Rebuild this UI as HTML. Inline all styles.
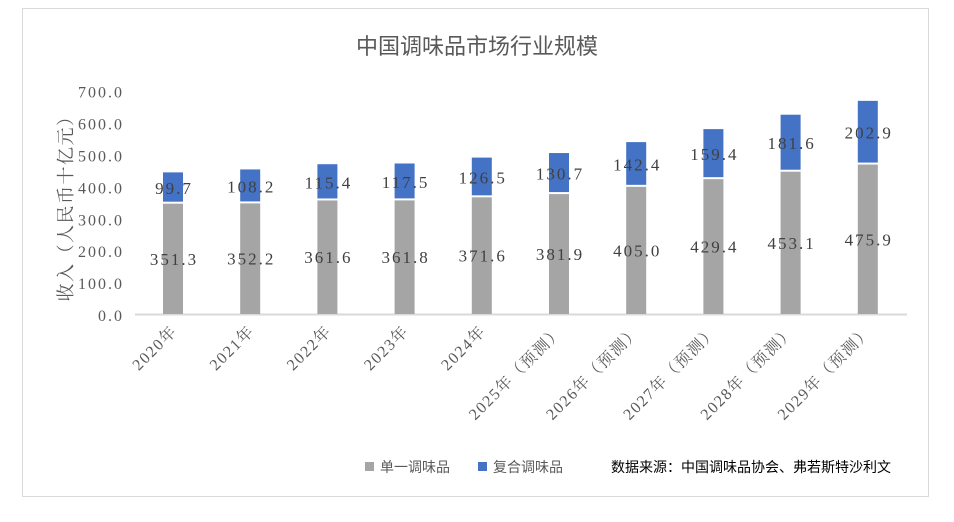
<!DOCTYPE html>
<html><head><meta charset="utf-8"><style>
body{margin:0;background:#fff;}
text{font-family:"Liberation Serif","Noto Serif CJK SC",serif;}
</style></head><body>
<svg width="954" height="517" xmlns="http://www.w3.org/2000/svg">
<rect x="0" y="0" width="954" height="517" fill="#fff"/>
<rect x="22.5" y="8.5" width="906" height="488" fill="none" stroke="#d9d9d9"/>
<text x="477" y="54" text-anchor="middle" font-size="22" fill="#595959" style="font-family:'Noto Sans CJK SC',sans-serif">中国调味品市场行业规模</text>
<g font-size="16" fill="#595959" text-anchor="end" letter-spacing="2">
<text x="124" y="321">0.0</text>
<text x="124" y="289.1">100.0</text>
<text x="124" y="257.2">200.0</text>
<text x="124" y="225.3">300.0</text>
<text x="124" y="193.4">400.0</text>
<text x="124" y="161.5">500.0</text>
<text x="124" y="129.6">600.0</text>
<text x="124" y="97.7">700.0</text>
</g>
<text transform="translate(72,204) rotate(-90)" text-anchor="middle" font-size="18" letter-spacing="1.5" fill="#595959" style="font-family:'Noto Serif CJK SC',serif">收入（人民币十亿元）</text>
<line x1="135" y1="314.5" x2="907" y2="314.5" stroke="#d9d9d9" stroke-width="2"/>
<g id="bars"></g>
<g font-size="16" fill="#595959" letter-spacing="1.5" id="xl"></g>
<g font-size="17" fill="#404040" text-anchor="middle" letter-spacing="2" id="vl"></g>
<rect x="365" y="462" width="9" height="9" fill="#a5a5a5"/>
<text x="380" y="472" font-size="14" fill="#595959" style="font-family:'Noto Sans CJK SC',sans-serif">单一调味品</text>
<rect x="478" y="462" width="9" height="9" fill="#4472c4"/>
<text x="493" y="472" font-size="14" fill="#595959" style="font-family:'Noto Sans CJK SC',sans-serif">复合调味品</text>
<text x="611" y="472" font-size="14" fill="#000" style="font-family:'Noto Sans CJK SC',sans-serif">数据来源：中国调味品协会、弗若斯特沙利文</text>
</svg>
<script>
var a=[351.3,352.2,361.6,361.8,371.6,381.9,405.0,429.4,453.1,475.9];
var b=[99.7,108.2,115.4,117.5,126.5,130.7,142.4,159.4,181.6,202.9];
var lab=["2020年","2021年","2022年","2023年","2024年","2025年（预测）","2026年（预测）","2027年（预测）","2028年（预测）","2029年（预测）"];
var ns="http://www.w3.org/2000/svg",k=0.314,y0=314;
function el(t,at,p,tx){var e=document.createElementNS(ns,t);for(var q in at)e.setAttribute(q,at[q]);if(tx)e.textContent=tx;document.getElementById(p).appendChild(e);}
for(var i=0;i<10;i++){var cx=173+77.2*i;var h1=a[i]*k,h2=b[i]*k;
el("rect",{x:cx-10,y:y0-h1,width:20,height:h1,fill:"#a5a5a5"},"bars");
el("rect",{x:cx-10,y:y0-h1-h2,width:20,height:h2-2,fill:"#4472c4"},"bars");
el("text",{x:cx+1,y:y0-h1/2+6},"vl",a[i].toFixed(1));
el("text",{x:cx+1,y:y0-h1-h2/2+6},"vl",b[i].toFixed(1));
el("text",{x:0,y:0,"text-anchor":"end",transform:"translate("+(cx+5)+",332) rotate(-45)"},"xl",lab[i]);}
</script>
</body></html>
